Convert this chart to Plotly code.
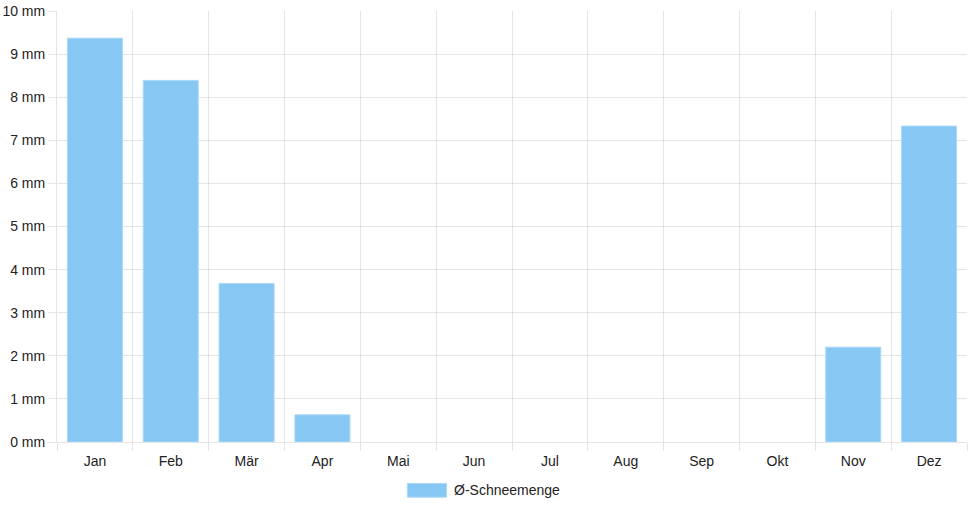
import plotly.graph_objects as go

# monthly average snowfall
months = ["Jan", "Feb", "Mär", "Apr", "Mai", "Jun", "Jul", "Aug", "Sep", "Okt", "Nov", "Dez"]
snow_mm = [9.37, 8.39, 3.68, 0.63, 0, 0, 0, 0, 0, 0, 2.2, 7.33]
series_name = "Ø-Schneemenge"

bar_color = "rgb(134,199,243)"
edge_color = "rgb(170,216,248)"
grid = "rgba(0,0,0,0.1)"
font = dict(family="Liberation Sans, Arial, sans-serif", size=14, color="#222")

fig = go.Figure()
fig.add_trace(go.Bar(
    x=months, y=snow_mm, name=series_name,
    marker=dict(color=bar_color,
                line=dict(color=edge_color, width=[1 if v > 0 else 0 for v in snow_mm])),
    showlegend=False,
))

fig.update_layout(
    width=968, height=508,
    margin=dict(l=57, r=1, t=11, b=66),
    plot_bgcolor="white", paper_bgcolor="white",
    font=font,
    bargap=0.275,
    xaxis=dict(
        type="category", tickson="boundaries", showgrid=True, gridcolor=grid,
        ticks="outside", ticklen=8, tickcolor=grid, ticklabelstandoff=6,
        showline=True, linecolor=grid,
    ),
    yaxis=dict(
        range=[0, 10], dtick=1, ticksuffix=" mm",
        showgrid=True, gridcolor=grid, zeroline=False,
        ticks="outside", ticklen=8, tickcolor=grid,
        showline=True, linecolor=grid,
    ),
)

# chart.js style legend: wide colour box + label
fig.add_shape(type="rect", xref="paper", yref="paper",
              x0=0.385, x1=0.428, y0=-0.096, y1=-0.128,
              fillcolor=bar_color, line=dict(color=edge_color, width=1))
fig.add_annotation(text=series_name, xref="paper", yref="paper",
                   x=0.434, y=-0.112, xanchor="left", yanchor="middle",
                   showarrow=False, font=font)

# drop the default 8px page margin so the figure fills the window
fig.write_html("out.html", config={"displayModeBar": False},
               post_script="document.body.style.margin='0';")
